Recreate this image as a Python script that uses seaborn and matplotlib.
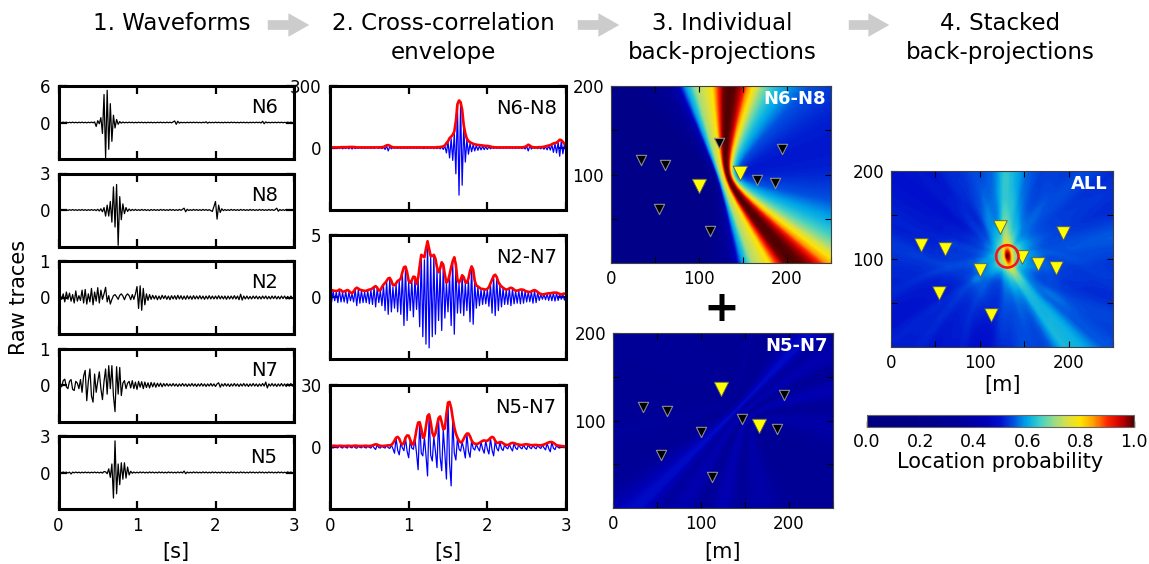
import numpy as np
import matplotlib
matplotlib.use('Agg')
import matplotlib.pyplot as plt
import seaborn as sns
from matplotlib.colors import LinearSegmentedColormap, LogNorm, Normalize
from matplotlib.cm import ScalarMappable
from matplotlib.patches import FancyArrowPatch

W, H = 1149, 564

# shared time axis [s]
t_axis = np.round(np.arange(151) * 0.02, 2)

# ---- 1. raw waveforms ----
trace_names = ['N6', 'N8', 'N2', 'N7', 'N5']
trace_ymax = [6, 3, 1, 1, 3]

n6 = [0.0, 0.05, -0.05, 0.06, -0.04, 0.05, -0.06, 0.04, -0.05, 0.06,
      -0.05, 0.04, -0.06, 0.05, -0.04, 0.06, -0.05, 0.04, -0.06, 0.05,
      -0.04, 0.06, -0.05, 0.1, -0.65, 0.3, -0.2, 0.8, -1.8, 4.6,
      -5.8, 5.3, -4.4, 3.1, -3.1, 1.2, -0.9, 0.5, -0.3, 0.15,
      -0.1, 0.08, -0.06, 0.05, -0.05, 0.06, -0.04, 0.05, -0.06, 0.04,
      -0.05, 0.06, -0.04, 0.05, -0.05, 0.04, -0.06, 0.05, -0.04, 0.05,
      -0.06, 0.04, -0.05, 0.05, -0.04, 0.06, -0.05, 0.04, -0.05, 0.06,
      -0.04, 0.05, -0.06, 0.1, 0.25, -0.3, 0.2, -0.1, 0.05, -0.05,
      0.04, -0.06, 0.05, -0.04, 0.05, -0.05, 0.06, -0.04, 0.05, -0.05,
      0.04, -0.06, 0.05, -0.04, 0.12, -0.12, 0.06, -0.05, 0.04, -0.05,
      0.06, -0.04, 0.05, -0.05, 0.04, -0.06, 0.05, -0.04, 0.05, -0.05,
      0.06, -0.04, 0.05, -0.05, 0.04, -0.06, 0.05, -0.04, 0.05, -0.05,
      0.04, -0.06, 0.05, -0.04, 0.05, -0.05, 0.06, -0.04, 0.05, -0.08,
      0.2, -0.2, 0.1, -0.05, 0.04, -0.06, 0.05, -0.04, 0.05, -0.05,
      0.06, -0.04, 0.05, -0.05, 0.04, -0.06, 0.05, -0.04, 0.05, -0.05,
      0.0]
n8 = [0.0, 0.03, -0.03, 0.04, -0.03, 0.03, -0.04, 0.03, -0.03, 0.04,
      -0.03, 0.03, -0.04, 0.03, -0.03, 0.04, -0.03, 0.03, -0.04, 0.03,
      -0.03, 0.04, -0.03, 0.03, -0.05, 0.06, -0.08, 0.1, -0.15, 0.2,
      -0.5, 0.4, -0.5, 0.7, -1.0, 1.9, -1.4, 2.1, -2.9, 1.1,
      -0.8, 0.5, -0.3, 0.2, -0.12, 0.08, -0.06, 0.05, -0.04, 0.05,
      -0.04, 0.03, -0.04, 0.05, -0.03, 0.04, -0.04, 0.03, -0.05, 0.04,
      -0.03, 0.04, -0.04, 0.03, -0.04, 0.05, -0.03, 0.04, -0.04, 0.03,
      -0.04, 0.05, -0.03, 0.04, -0.04, 0.03, -0.04, 0.05, -0.03, 0.06,
      0.15, -0.15, 0.06, -0.04, 0.03, -0.04, 0.05, -0.03, 0.04, -0.04,
      0.03, -0.04, 0.05, -0.03, 0.04, -0.04, 0.03, -0.05, -0.12, 0.3,
      0.7, -0.75, 0.4, -0.2, 0.1, -0.05, 0.04, -0.04, 0.03, -0.04,
      0.05, -0.03, 0.04, -0.04, 0.03, -0.04, 0.05, -0.03, 0.04, -0.04,
      0.03, -0.04, 0.05, -0.03, 0.04, -0.04, 0.03, -0.04, 0.05, -0.03,
      0.04, -0.04, 0.03, -0.04, 0.05, -0.03, 0.04, -0.04, 0.03, 0.15,
      -0.1, 0.04, -0.04, 0.03, -0.04, 0.05, -0.03, 0.04, -0.04, 0.03,
      0.0]
n2 = [0.0, 0.08, -0.05, 0.1, -0.12, 0.15, -0.05, 0.12, -0.1, 0.08,
      -0.15, 0.18, -0.1, 0.05, -0.08, 0.2, -0.15, 0.22, -0.18, 0.1,
      -0.12, 0.25, -0.2, 0.15, -0.1, 0.27, -0.15, 0.2, -0.05, 0.1,
      0.28, -0.12, 0.05, -0.18, -0.05, 0.05, 0.08, 0.02, -0.05, 0.06,
      0.1, 0.04, -0.06, 0.05, 0.1, 0.05, -0.06, 0.08, -0.05, 0.1,
      0.3, -0.3, 0.32, -0.35, 0.25, -0.2, 0.1, -0.08, 0.08, -0.05,
      0.06, -0.04, 0.05, -0.06, 0.04, -0.05, 0.06, -0.03, 0.05, -0.05,
      0.04, -0.06, 0.05, -0.04, 0.05, -0.05, 0.06, -0.04, 0.05, -0.05,
      0.04, -0.05, 0.05, -0.04, 0.04, -0.05, 0.05, -0.04, 0.04, -0.04,
      0.05, -0.04, 0.04, -0.05, 0.04, -0.04, 0.05, -0.04, 0.04, -0.04,
      0.04, -0.04, 0.05, -0.04, 0.04, -0.04, 0.04, -0.05, 0.04, -0.04,
      0.04, -0.04, 0.05, -0.04, 0.04, -0.06, 0.09, -0.07, 0.04, -0.04,
      0.04, -0.04, 0.03, -0.04, 0.04, -0.03, 0.04, -0.04, 0.03, -0.04,
      0.04, -0.03, 0.04, -0.04, 0.03, -0.04, 0.04, -0.03, 0.04, -0.04,
      0.03, -0.04, 0.04, -0.03, 0.04, -0.04, 0.03, -0.04, 0.04, -0.03,
      0.0]
n7 = [0.0, 0.05, -0.05, 0.12, 0.16, -0.05, -0.1, 0.1, 0.15, -0.12,
      -0.15, 0.1, 0.05, -0.1, 0.15, -0.2, 0.25, 0.4, -0.43, 0.1,
      0.44, -0.3, -0.47, 0.3, -0.2, 0.1, 0.36, -0.1, -0.4, 0.1,
      0.44, -0.25, 0.53, -0.1, 0.53, -0.3, -0.73, 0.5, -0.25, 0.48,
      -0.29, 0.05, 0.12, -0.1, 0.05, 0.1, -0.08, 0.12, -0.1, 0.08,
      -0.12, 0.1, -0.06, 0.09, -0.1, 0.08, -0.07, 0.06, -0.08, 0.07,
      -0.05, 0.06, -0.06, 0.05, -0.04, 0.05, -0.05, 0.04, -0.03, 0.04,
      -0.03, 0.03, -0.03, 0.04, -0.03, 0.03, -0.04, 0.03, -0.03, 0.04,
      -0.03, 0.03, -0.04, 0.03, -0.03, 0.04, -0.03, 0.03, -0.04, 0.03,
      -0.03, 0.04, -0.03, 0.03, -0.04, 0.03, -0.03, 0.04, -0.03, 0.03,
      -0.04, 0.03, 0.06, -0.06, 0.03, -0.03, 0.04, -0.03, 0.03, -0.04,
      0.03, -0.03, 0.04, -0.03, 0.03, -0.04, 0.03, -0.03, 0.04, -0.03,
      0.03, -0.04, 0.03, -0.03, 0.04, -0.03, 0.03, -0.04, 0.03, -0.03,
      0.04, -0.03, 0.08, -0.08, 0.03, -0.03, 0.04, -0.03, 0.03, -0.04,
      0.03, -0.03, 0.04, -0.03, 0.03, -0.04, 0.03, -0.03, 0.04, -0.03,
      0.0]
n5 = [0.0, 0.03, -0.03, 0.04, -0.03, 0.03, -0.04, 0.03, -0.12, 0.03,
      -0.03, 0.04, -0.03, 0.03, -0.04, 0.03, -0.03, 0.04, -0.03, 0.03,
      -0.04, 0.03, -0.03, 0.04, -0.03, 0.03, -0.04, 0.03, -0.05, 0.08,
      0.05, -0.1, 0.3, -0.4, 0.7, -2.1, 2.6, -1.75, 0.7, -1.0,
      0.8, -0.55, 0.8, -0.46, 0.45, -0.2, 0.1, -0.06, 0.04, -0.04,
      0.03, -0.04, 0.05, -0.03, 0.04, -0.04, 0.03, -0.04, 0.05, -0.03,
      0.04, -0.04, 0.03, -0.04, 0.05, -0.03, 0.04, -0.04, 0.03, -0.04,
      0.05, -0.03, 0.04, -0.04, 0.03, -0.04, 0.05, -0.03, 0.04, -0.04,
      0.12, -0.1, 0.04, -0.04, 0.03, -0.04, 0.05, -0.03, 0.04, -0.04,
      0.03, -0.04, 0.05, -0.03, 0.04, -0.04, 0.03, -0.04, 0.05, -0.03,
      0.04, -0.04, 0.03, -0.04, 0.05, -0.03, 0.04, -0.04, 0.03, -0.04,
      0.05, -0.03, 0.04, -0.04, 0.03, -0.04, 0.05, -0.03, 0.04, -0.04,
      0.03, -0.04, 0.05, -0.03, 0.04, -0.04, 0.03, -0.04, 0.05, -0.03,
      0.04, -0.04, 0.03, -0.04, 0.05, -0.03, 0.04, -0.04, 0.03, -0.04,
      0.05, -0.03, 0.04, -0.04, 0.03, -0.04, 0.05, -0.03, 0.04, -0.04,
      0.0]
traces = [n6, n8, n2, n7, n5]

# ---- 2. cross-correlations (blue) and envelopes (red) ----
cc_names = ['N6-N8', 'N2-N7', 'N5-N7']
cc_ymax = [300, 5, 30]

cc_n6n8 = [0, 2, -3, 2, -2, 3, -3, 3, -4, 2,
           -3, 4, -4, 5, -5, 4, -3, 2, -2, 2,
           -2, 2, -2, 2, -2, 2, -2, 2, -2, 2,
           2, -2, 3, -3, 4, -7, 9, -14, 7, -4,
           3, -2, 2, -2, 2, -2, 2, -2, 2, -2,
           2, -2, 2, -2, 2, -2, 2, -2, 2, -2,
           -2, 2, -2, 2, -2, 2, -3, 3, -3, 3,
           -4, 5, -7, 10, -24, 30, -48, 45, -60, 70,
           -125, 205, -228, 215, -180, 105, -68, 40, -30, 22,
           -18, 16, -14, 12, -11, 10, -9, 9, -8, 7,
           -7, 6, -4, 3, -2, 2, -2, 2, -2, 2,
           -2, 2, -2, 2, -2, 2, -2, 2, -2, 2,
           -2, 2, -3, 3, -5, 8, -14, 10, -5, 3,
           -2, 2, -3, 3, -4, 5, -6, 7, -9, 11,
           -10, 15, -21, 20, -24, 28, -40, 35, -28, 15,
           -12]
env_n6n8 = [3, 3, 3, 3, 3, 3, 3, 4, 4, 4,
            4, 4, 5, 5, 5, 5, 4, 3, 3, 3,
            3, 3, 3, 3, 3, 3, 3, 3, 3, 3,
            3, 3, 3, 4, 5, 9, 13, 14, 11, 6,
            4, 3, 3, 3, 3, 3, 3, 3, 3, 3,
            3, 3, 3, 3, 3, 3, 3, 3, 3, 3,
            3, 3, 3, 3, 3, 3, 3, 3, 4, 4,
            5, 6, 8, 12, 24, 32, 48, 55, 64, 80,
            130, 212, 230, 222, 185, 110, 70, 45, 34, 28,
            24, 20, 18, 16, 15, 14, 13, 12, 11, 10,
            10, 9, 7, 5, 4, 3, 3, 3, 3, 3,
            3, 3, 3, 3, 3, 3, 3, 3, 3, 3,
            3, 3, 3, 4, 6, 10, 16, 12, 6, 4,
            3, 3, 3, 4, 4, 5, 6, 8, 10, 12,
            14, 18, 22, 24, 26, 32, 40, 38, 30, 20,
            15]
cc_n2n7 = [0.3, -0.4, 0.45, -0.3, 0.4, -0.45, 0.55, -0.4, 0.35, -0.4,
           0.45, -0.5, 0.4, -0.3, 0.25, -0.4, 0.6, -0.7, 0.6, -0.5,
           0.5, -0.45, 0.4, -0.45, 0.5, -0.55, 0.55, -0.6, 0.75, -0.8,
           0.7, -0.45, 0.5, -0.7, 0.9, -1.1, 1.25, -1.4, 1.5, -1.2,
           0.8, -0.9, 1.0, -1.2, 1.3, -1.4, 1.9, -2.3, 2.4, -1.9,
           1.2, -1.1, 1.3, -1.6, 1.5, -1.0, 1.4, -2.4, 3.3, -3.2,
           3.0, -3.8, 4.4, -4.1, 3.2, -3.2, 3.3, -3.0, 2.2, -1.9,
           2.2, -2.7, 2.5, -1.7, 1.1, -1.2, 1.7, -2.3, 2.8, -3.0,
           2.5, -1.3, 1.1, -1.3, 1.7, -1.5, 1.1, -1.1, 1.4, -2.0,
           2.4, -2.2, 1.2, -0.9, 0.8, -0.7, 0.6, -0.6, 0.6, -0.55,
           0.6, -0.75, 1.0, -1.3, 1.6, -1.5, 1.5, -1.1, 0.9, -0.8,
           0.7, -0.6, 0.55, -0.6, 0.65, -0.7, 0.65, -0.55, 0.45, -0.5,
           0.5, -0.55, 0.55, -0.5, 0.45, -0.4, 0.4, -0.38, 0.42, -0.5,
           0.5, -0.45, 0.35, -0.28, 0.22, -0.18, 0.2, -0.22, 0.25, -0.28,
           0.28, -0.3, 0.32, -0.33, 0.3, -0.28, 0.22, -0.18, 0.22, -0.25,
           0.2]
env_n2n7 = [0.5, 0.56, 0.52, 0.5, 0.48, 0.52, 0.6, 0.55, 0.42, 0.45,
            0.5, 0.56, 0.5, 0.38, 0.3, 0.45, 0.65, 0.75, 0.68, 0.58,
            0.56, 0.52, 0.5, 0.5, 0.55, 0.6, 0.62, 0.7, 0.8, 0.88,
            0.75, 0.52, 0.55, 0.8, 1.0, 1.14, 1.3, 1.5, 1.54, 1.3,
            0.95, 0.95, 1.1, 1.3, 1.36, 1.5, 2.0, 2.4, 2.45, 2.0,
            1.3, 1.15, 1.35, 1.65, 1.6, 1.05, 1.5, 2.5, 3.4, 3.3,
            3.2, 3.9, 4.5, 3.9, 3.3, 3.3, 3.4, 3.1, 2.4, 2.0,
            2.3, 2.8, 2.6, 1.8, 1.15, 1.3, 1.8, 2.4, 2.9, 3.2,
            2.6, 1.4, 1.15, 1.4, 1.75, 1.6, 1.2, 1.15, 1.5, 2.1,
            2.47, 2.2, 1.3, 0.93, 0.85, 0.75, 0.66, 0.65, 0.62, 0.6,
            0.65, 0.8, 1.1, 1.4, 1.7, 1.8, 1.6, 1.2, 1.0, 0.85,
            0.75, 0.65, 0.6, 0.62, 0.7, 0.75, 0.7, 0.6, 0.5, 0.52,
            0.55, 0.6, 0.6, 0.58, 0.5, 0.45, 0.42, 0.4, 0.45, 0.52,
            0.56, 0.5, 0.4, 0.3, 0.25, 0.2, 0.22, 0.25, 0.28, 0.3,
            0.3, 0.32, 0.35, 0.35, 0.35, 0.3, 0.25, 0.2, 0.25, 0.28,
            0.25]
cc_n5n7 = [0.4, -0.2, -0.5, 0.5, -0.2, -0.4, 0.5, -0.2, -0.5, 0.4,
           -0.2, -0.5, 0.5, -0.2, -0.4, 0.5, -0.3, -0.6, 0.4, -0.2,
           -0.4, 0.4, -0.2, -0.5, 0.4, -0.2, -0.5, 0.7, -0.4, -1.2,
           1.1, -0.3, -0.5, 0.4, -0.2, -0.5, 0.6, -0.3, -0.7, 0.9,
           -0.8, -3.0, 4.3, -1.5, -3.8, 1.9, -0.4, -1.8, 4.3, -2.0,
           -5.2, 3.3, -0.5, -1.1, 3.8, -3.0, -11.0, 11.8, -3.0, -4.3,
           4.8, -4.0, -14.0, 15.5, -4.0, -6.8, 4.8, -2.0, -10.0, 13.8,
           -5.0, -11.5, 8.2, -3.0, -15.5, 21.3, -8.0, -18.8, 13.5, -3.0,
           -6.3, 4.3, -1.0, -2.0, 2.4, -1.0, -5.3, 6.3, -2.0, -5.0,
           3.0, -0.6, -1.5, 1.4, -0.5, -1.9, 2.4, -1.0, -3.0, 2.9,
           -1.0, -3.4, 4.2, -1.5, -4.3, 2.9, -0.6, -1.9, 2.3, -0.8,
           -1.7, 1.2, -0.3, -0.9, 1.2, -0.6, -1.9, 1.8, -0.5, -1.2,
           1.1, -0.3, -0.9, 1.0, -0.4, -1.2, 1.1, -0.3, -0.8, 0.8,
           -0.3, -0.9, 0.8, -0.2, -0.7, 0.9, -0.4, -1.4, 1.8, -0.7,
           -2.3, 2.3, -0.6, -1.3, 0.8, -0.2, -0.5, 0.5, -0.1, -0.3,
           0.3]
env_n5n7 = [0.5, 0.5, 0.6, 0.6, 0.5, 0.5, 0.6, 0.6, 0.5, 0.5,
            0.5, 0.6, 0.6, 0.5, 0.5, 0.6, 0.7, 0.6, 0.5, 0.5,
            0.5, 0.5, 0.6, 0.6, 0.5, 0.5, 0.6, 0.8, 1.1, 1.3,
            1.2, 0.8, 0.6, 0.5, 0.5, 0.6, 0.7, 0.8, 0.8, 1.0,
            1.8, 3.2, 4.5, 4.9, 4.0, 2.0, 1.3, 2.0, 4.5, 5.6,
            5.5, 3.5, 1.4, 1.2, 4.0, 8.5, 11.8, 12.0, 9.0, 4.5,
            5.0, 10.0, 15.0, 15.8, 12.0, 7.0, 5.0, 6.5, 10.5, 14.0,
            14.8, 12.0, 8.5, 9.0, 16.0, 21.5, 21.8, 19.0, 14.0, 9.5,
            6.5, 4.5, 3.0, 2.2, 2.5, 4.0, 5.5, 6.5, 6.5, 5.2,
            3.2, 2.0, 1.6, 1.5, 1.6, 2.0, 2.5, 3.0, 3.2, 3.0,
            3.0, 3.6, 4.4, 4.9, 4.5, 3.0, 2.0, 2.0, 2.4, 2.3,
            1.8, 1.3, 1.0, 1.0, 1.3, 1.8, 2.0, 1.9, 1.6, 1.3,
            1.2, 1.0, 1.0, 1.1, 1.3, 1.3, 1.2, 1.0, 0.9, 0.9,
            1.0, 1.0, 0.9, 0.8, 0.8, 1.0, 1.2, 1.5, 1.9, 2.2,
            2.4, 2.4, 2.0, 1.4, 0.9, 0.7, 0.6, 0.5, 0.4, 0.3,
            0.3]
cc_traces = [cc_n6n8, cc_n2n7, cc_n5n7]
cc_envs = [env_n6n8, env_n2n7, env_n5n7]

# ---- 3./4. station geometry for back-projection [m] ----
sta_x = [34, 61, 100, 54, 113, 123, 147, 166, 186, 194]
sta_y = [116, 111, 87, 61, 36, 136, 102, 94, 90, 129]
i_n6, i_n8, i_n7, i_n5 = 2, 6, 5, 7
src_x, src_y = 131, 103      # located event (red circle)
vel = 135.0                  # apparent velocity [m/s]
t_zero = 1.5                 # zero lag position on the correlation axis
prior = 0.8                  # uniform floor added to the stack

# colour scale
cmap_pos = [0.0, 0.2, 0.35, 0.45, 0.5, 0.55, 0.6, 0.65, 0.7, 0.75, 0.8, 0.85, 0.9, 0.95, 1.0]
cmap_hex = ['#00007f', '#000088', '#00009a', '#0000b8', '#0010cc', '#0050e0', '#00a8e8',
            '#40d0c8', '#98dc88', '#d8e048', '#ffe400', '#ffa000', '#ff2800', '#d00000', '#500000']
cmap = LinearSegmentedColormap.from_list('bp', list(zip(cmap_pos, cmap_hex)))

sns.set_style('ticks')
plt.rcParams['font.family'] = ['DejaVu Sans']
for key in ['text.color', 'axes.labelcolor', 'xtick.color', 'ytick.color', 'axes.edgecolor']:
    plt.rcParams[key] = 'black'

fig = plt.figure(figsize=(W / 100, H / 100), dpi=100)


def px_axes(l, t, r, b):
    return fig.add_axes([l / W, 1 - b / H, (r - l) / W, (b - t) / H])


def box_style(ax):
    for s in ax.spines.values():
        s.set_linewidth(2.2)
        s.set_color('k')
    ax.tick_params(direction='in', top=True, right=True, length=5.5, width=1.6,
                   labelsize=12, pad=6, color='k', labelcolor='k')


# column 1
tops = [86, 173.5, 261, 348.5, 436]
for k, (name, ym, tr) in enumerate(zip(trace_names, trace_ymax, traces)):
    ax = px_axes(58.5, tops[k], 294, tops[k] + 73)
    sns.lineplot(x=t_axis, y=np.array(tr), ax=ax, color='k', lw=0.9)
    ax.set_xlim(0, 3)
    ax.set_ylim(-ym, ym)
    ax.set_yticks([0, ym])
    ax.set_xticks([0, 1, 2, 3])
    box_style(ax)
    if k < 4:
        ax.set_xticklabels([])
    ax.text(0.93, 0.70, name, transform=ax.transAxes, ha='right', va='center', fontsize=14)

# column 2
cc_tops = [86, 235, 385]
for k, (name, ym, cc, env) in enumerate(zip(cc_names, cc_ymax, cc_traces, cc_envs)):
    ax = px_axes(330, cc_tops[k], 566, cc_tops[k] + 124)
    sns.lineplot(x=t_axis, y=np.array(cc, float), ax=ax, color='#0000ff', lw=0.9)
    sns.lineplot(x=t_axis, y=np.array(env, float), ax=ax, color='#ff0000', lw=1.9)
    ax.set_xlim(0, 3)
    ax.set_ylim(-ym, ym)
    ax.set_yticks([0, ym])
    ax.set_xticks([0, 1, 2, 3])
    box_style(ax)
    if k < 2:
        ax.set_xticklabels([])
    ax.text(0.96, 0.82, name, transform=ax.transAxes, ha='right', va='center', fontsize=14)

# back-projection grids
gx, gy = np.meshgrid(np.arange(0, 251.0), np.arange(0, 201.0))
dist = [np.hypot(gx - x, gy - y) for x, y in zip(sta_x, sta_y)]
src_d = [np.hypot(src_x - x, src_y - y) for x, y in zip(sta_x, sta_y)]


def pair_map(env, a, b):
    lag = (dist[a] - dist[b]) / vel
    return np.interp(t_zero + lag, t_axis, np.array(env, float))


def map_style(ax, label):
    ax.set_xlim(0, 250)
    ax.set_ylim(0, 200)
    ax.set_xticks([0, 50, 100, 150, 200, 250])
    ax.set_xticklabels(['0', '', '100', '', '200', ''])
    ax.set_yticks([50, 100, 150, 200])
    ax.set_yticklabels(['', '100', '', '200'])
    ax.tick_params(direction='in', top=True, right=True, length=4, width=0.8,
                   labelsize=12, pad=5, color='k', labelcolor='k')
    for s in ax.spines.values():
        s.set_linewidth(0.8)
        s.set_color('0.25')
    ax.text(0.975, 0.925, label, transform=ax.transAxes, ha='right', va='center',
            fontsize=13, fontweight='bold', color='white')


def stations(ax, hl, all_yellow=False):
    if all_yellow:
        sns.scatterplot(x=sta_x, y=sta_y, ax=ax, marker='v', s=95, color='#ffff00',
                        edgecolor='0.35', linewidth=0.6, zorder=3)
        return
    other = [i for i in range(len(sta_x)) if i not in hl]
    sns.scatterplot(x=[sta_x[i] for i in other], y=[sta_y[i] for i in other], ax=ax,
                    marker='v', s=55, color='k', edgecolor='0.55', linewidth=0.8, zorder=3)
    sns.scatterplot(x=[sta_x[i] for i in hl], y=[sta_y[i] for i in hl], ax=ax,
                    marker='v', s=110, color='#ffff00', edgecolor='0.35', linewidth=0.6, zorder=3)


ax = px_axes(611, 86, 831, 263)
ax.imshow(pair_map(env_n6n8, i_n6, i_n8), origin='lower', extent=[0, 250, 0, 200], aspect='auto',
          cmap=cmap, norm=LogNorm(vmin=1.0, vmax=230), interpolation='bilinear')
stations(ax, [i_n6, i_n8])
map_style(ax, 'N6-N8')

ax = px_axes(613, 333, 833, 508)
ax.imshow(pair_map(env_n5n7, i_n5, i_n7), origin='lower', extent=[0, 250, 0, 200], aspect='auto',
          cmap=cmap, norm=Normalize(vmin=-35, vmax=83), interpolation='bilinear')
stations(ax, [i_n5, i_n7])
map_style(ax, 'N5-N7')

# stack over all station pairs, using the N6-N8 envelope as beam shape
tmpl = np.array(env_n6n8, float) / max(env_n6n8)
t_pk = t_axis[int(np.argmax(env_n6n8))]
stack = np.zeros_like(gx)
for a in range(len(sta_x)):
    for b in range(a + 1, len(sta_x)):
        lag = (dist[a] - dist[b]) / vel
        lag_s = (src_d[a] - src_d[b]) / vel
        w = 10.0 if (a, b) == (i_n6, i_n8) else 1.0
        stack += w * np.interp(t_pk + lag - lag_s, t_axis, tmpl)
prob = (stack / stack.max() + prior) / (1 + prior)

ax = px_axes(891, 171, 1113, 347)
ax.imshow(prob, origin='lower', extent=[0, 250, 0, 200], aspect='auto',
          cmap=cmap, norm=Normalize(0, 1), interpolation='bilinear')
stations(ax, [], all_yellow=True)
sns.scatterplot(x=[src_x], y=[src_y], ax=ax, marker='o', s=260, facecolor='none',
                edgecolor='#ff1010', linewidth=1.8, zorder=4)
map_style(ax, 'ALL')

cax = px_axes(867, 415, 1134, 427)
cb = fig.colorbar(ScalarMappable(norm=Normalize(0, 1), cmap=cmap), cax=cax, orientation='horizontal')
cb.set_ticks([0.0, 0.2, 0.4, 0.6, 0.8, 1.0])
cb.ax.tick_params(direction='in', length=4, width=1.0, labelsize=12.5, color='k',
                  labelcolor='k', pad=4)
cb.outline.set_linewidth(0.8)
cb.outline.set_edgecolor('0.4')

# texts
fs_t = 16.5
fig.text(172 / W, 1 - 24 / H, '1. Waveforms', ha='center', va='center', fontsize=fs_t)
fig.text(443 / W, 1 - 38 / H, '2. Cross-correlation\nenvelope', ha='center', va='center',
         fontsize=fs_t, linespacing=1.3)
fig.text(722 / W, 1 - 38 / H, '3. Individual\nback-projections', ha='center', va='center',
         fontsize=fs_t, linespacing=1.3)
fig.text(1000 / W, 1 - 38 / H, '4. Stacked\nback-projections', ha='center', va='center',
         fontsize=fs_t, linespacing=1.3)
fig.text(19 / W, 1 - 297 / H, 'Raw traces', rotation=90, ha='center', va='center', fontsize=15)
fig.text(176 / W, 1 - 552 / H, '[s]', ha='center', va='center', fontsize=15)
fig.text(448 / W, 1 - 552 / H, '[s]', ha='center', va='center', fontsize=15)
fig.text(722 / W, 1 - 552 / H, '[m]', ha='center', va='center', fontsize=15)
fig.text(1002 / W, 1 - 385 / H, '[m]', ha='center', va='center', fontsize=15)
fig.text(1000 / W, 1 - 462 / H, 'Location probability', ha='center', va='center', fontsize=15)
fig.text(721 / W, 1 - 309 / H, '+', ha='center', va='center', fontsize=31, fontweight='bold')

for x0, x1 in [(265, 312), (575, 622), (846, 892)]:
    arr = FancyArrowPatch((x0 / W, 1 - 25 / H), (x1 / W, 1 - 25 / H), transform=fig.transFigure,
                          arrowstyle='simple,head_width=1.7,head_length=1.5,tail_width=0.7',
                          mutation_scale=10, color='#cccccc', lw=0)
    fig.add_artist(arr)

fig.savefig('out.png', dpi=100)
